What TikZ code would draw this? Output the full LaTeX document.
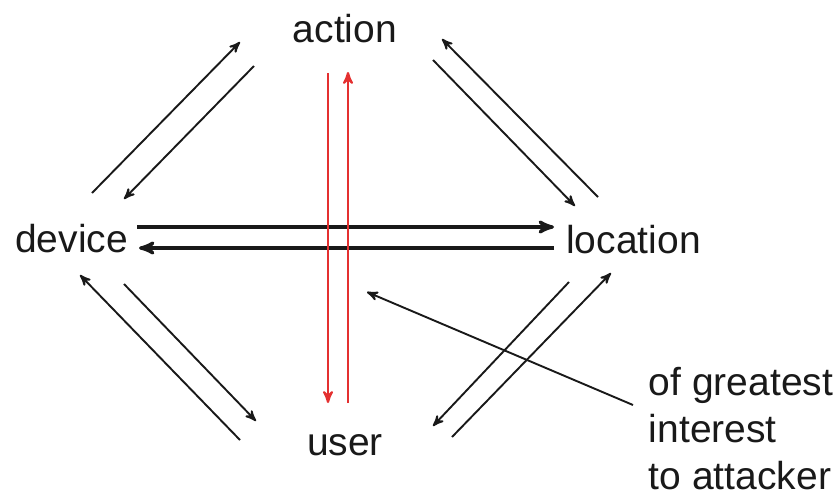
\documentclass[tikz,border=0pt]{standalone}
\usepackage{fontspec}
\setmainfont{Liberation Sans}
\usetikzlibrary{arrows,positioning}
\definecolor{ink}{RGB}{25,25,25}
\definecolor{flowred}{RGB}{228,48,48}

\begin{document}
\begin{tikzpicture}[x=0.5pt,y=-0.5pt,>=stealth',line width=0.95pt,color=ink,on grid,
  word/.style={font=\fontsize{19.5}{23.7}\selectfont,inner sep=0pt},
  spot/.style={word,text height=14pt,text depth=4pt},
  bold/.style={line width=1.6pt},
  hot/.style={draw=flowred,line width=1.1pt}]
  \useasboundingbox (0,0) rectangle (836,493);

  \node[spot] at (345,32) (act){action};
  \node[spot] [below left=105.25pt and 136.75pt of act] (dev){device};
  \node[spot] [below right=105.5pt and 144.25pt of act] (loc){location};
  \node[spot] [below=206.5pt of act] (usr){user};
  \node[word, align=left, anchor=north west] at (648,366) (note){of greatest\\interest\\to attacker};
  \coordinate (aim) at (367,292);

  \path[->]
  ([shift={(20.5,-49.5)}]dev.center) edge ([shift={(-105,10)}]act.center)
  ([shift={(-91,34)}]act.center) edge ([shift={(52.5,-43.5)}]dev.center)
  ([shift={(-35.5,-46)}]loc.center) edge ([shift={(97,7)}]act.center)
  ([shift={(88,28)}]act.center) edge ([shift={(-58.5,-37)}]loc.center)

  ([shift={(65.5,-15.5)}]dev.center) edge [bold] ([shift={(-79.5,-16)}]loc.center)
  ([shift={(-79.5,5)}]loc.center) edge [bold] ([shift={(67.5,5.5)}]dev.center)

  ([shift={(-17,41)}]act.center) edge [hot] ([shift={(-17,-42)}]usr.center)
  ([shift={(3,-42)}]usr.center) edge [hot] ([shift={(3,40)}]act.center)

  ([shift={(-105,-5)}]usr.center) edge ([shift={(8.5,32.5)}]dev.center)
  ([shift={(52.5,41.5)}]dev.center) edge ([shift={(-89,-24)}]usr.center)
  ([shift={(-64.5,39)}]loc.center) edge ([shift={(88,-19)}]usr.center)
  ([shift={(107,-8)}]usr.center) edge ([shift={(-22.5,30)}]loc.center)

  ([shift={(-15,39)}]note.north west) edge (aim)
  ;
\end{tikzpicture}
\end{document}
